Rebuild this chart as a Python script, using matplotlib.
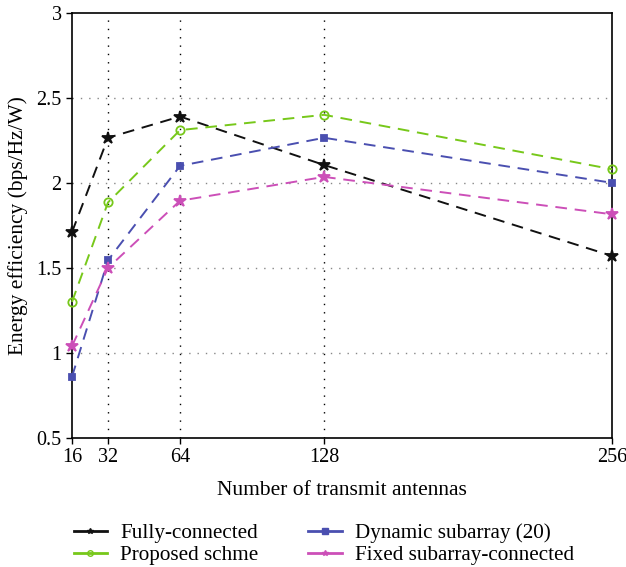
import matplotlib
matplotlib.use("Agg")
import matplotlib.pyplot as plt

plt.rcParams['font.family'] = ['Liberation Serif', 'DejaVu Serif']

antennas = [16, 32, 64, 128, 256]
fully_connected = [1.71, 2.265, 2.39, 2.105, 1.57]
proposed = [1.30, 1.885, 2.31, 2.40, 2.08]
dynamic_subarray = [0.86, 1.545, 2.10, 2.265, 2.00]
fixed_subarray = [1.04, 1.50, 1.895, 2.035, 1.815]

labels = ["Fully-connected", "Proposed schme", "Dynamic subarray (20)", "Fixed subarray-connected"]
colors = ["#111111", "#77c81a", "#4a4fb0", "#cc4fb8"]
markers = ["*", "o", "s", "*"]

fig = plt.figure(figsize=(6.26, 5.67), dpi=100)
ax = fig.add_axes([0.115, 0.2275, 0.863, 0.75])

series = [fully_connected, proposed, dynamic_subarray, fixed_subarray]
msizes = [9, 6, 5, 9]
handles = []
for ys, lab, c, m, ms in zip(series, labels, colors, markers, msizes):
    ax.plot(antennas, ys, linestyle=(0, (6, 4)), color=c, lw=1.4, marker=m,
            markersize=ms, markerfacecolor=('none' if m == 'o' else c),
            markeredgecolor=c, markeredgewidth=1.3, clip_on=False, zorder=3)
    h, = ax.plot([], [], color=c, lw=2, marker=m, markersize=4,
                 markerfacecolor=('none' if m == 'o' else c), markeredgecolor=c)
    handles.append(h)

ax.set_xlim(16, 256)
ax.set_ylim(0.5, 3)
ax.set_xticks(antennas)
ax.set_yticks([0.5, 1, 1.5, 2, 2.5, 3])
ax.set_yticklabels(["0.5", "1", "1.5", "2", "2.5", "3"])

for x in antennas[1:4]:
    ax.axvline(x, color='black', linestyle=(0, (1, 5)), lw=1, zorder=1)
for y in [1, 1.5, 2, 2.5]:
    ax.axhline(y, color='#888888', linestyle=(0, (1, 5)), lw=1, zorder=1)

for s in ax.spines.values():
    s.set_linewidth(1.2)
ax.tick_params(direction='out', length=4, width=1, labelsize=14.5)

ax.set_xlabel("Number of transmit antennas", fontsize=15.5, labelpad=10)
ax.set_ylabel("Energy efficiency (bps/Hz/W)", fontsize=15.4, labelpad=6)

fig.legend(handles, labels, loc='lower left', bbox_to_anchor=(0.104, -0.012),
           borderaxespad=0, ncol=2, frameon=False, fontsize=15.2, handlelength=1.6,
           columnspacing=2.35, labelspacing=0.1, handletextpad=0.62)

fig.savefig("out.png", dpi=100)
